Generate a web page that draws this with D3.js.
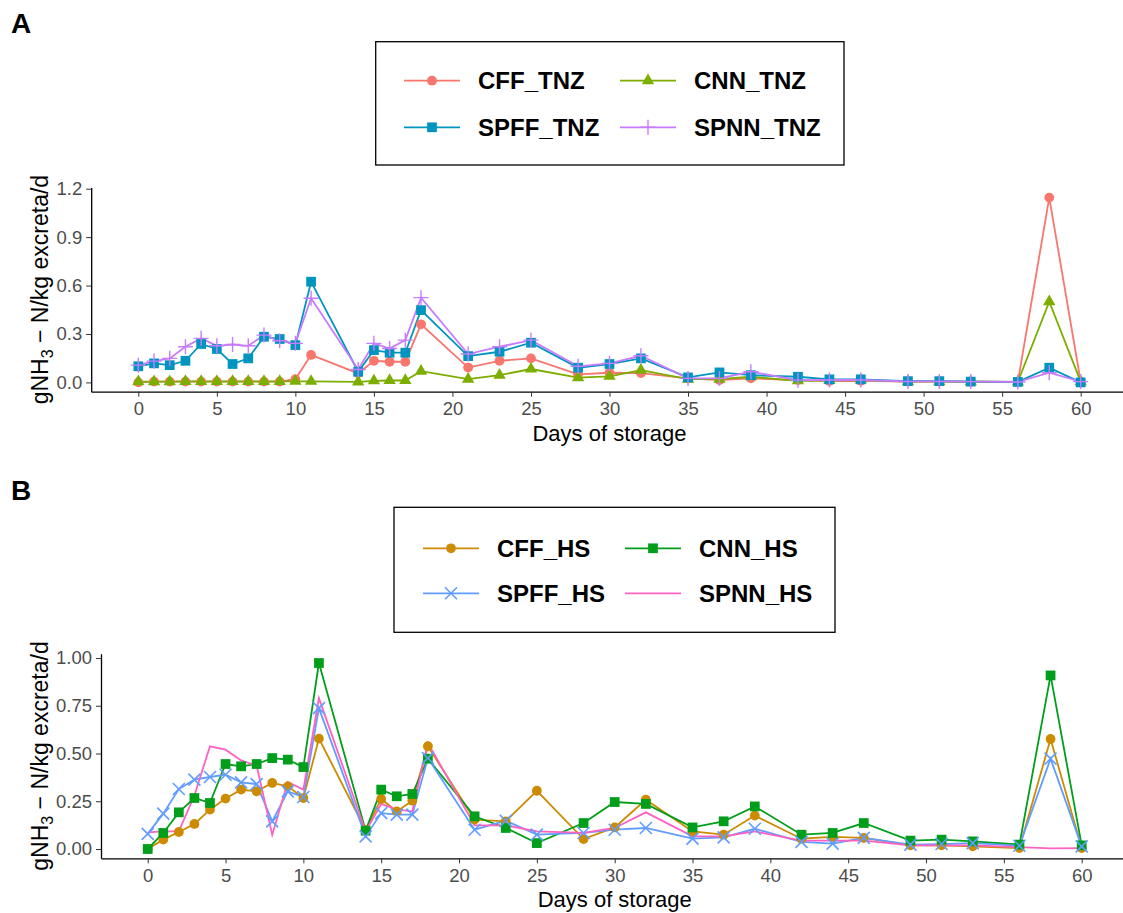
<!DOCTYPE html>
<html lang="en">
<head>
<meta charset="utf-8">
<title>Ammonia emission</title>
<script src="https://d3js.org/d3.v7.min.js"></script>
<style>
  body { margin: 0; background: #fff; }
  svg text { font-family: "Liberation Sans", Arial, sans-serif; }
  .tick line { stroke: #333; }
  .domain { stroke: #000; stroke-width: 1.3px; }
</style>
</head>
<body>
<svg id="chart" width="1123" height="913"></svg>
<script>
// storage days (same for both panels)
var days = [0,1,2,3,4,5,6,7,8,9,10,11,14,15,16,17,18,21,23,25,28,30,32,35,37,39,42,44,46,49,51,53,56,58,60];
var xTicks = [0,5,10,15,20,25,30,35,40,45,50,55,60];

// panel A - thermoneutral zone
var namesA = ["CFF_TNZ", "CNN_TNZ", "SPFF_TNZ", "SPNN_TNZ"];
var cffTNZ  = [0.0,0.005,0.005,0.005,0.005,0.005,0.005,0.005,0.005,0.005,0.02,0.17,0.056,0.134,0.128,0.128,0.36,0.092,0.134,0.149,0.05,0.06,0.058,0.025,0.015,0.025,0.014,0.008,0.01,0.005,0.005,0.004,0.003,1.145,0.005];
var cnnTNZ  = [0.005,0.005,0.005,0.006,0.006,0.006,0.006,0.006,0.006,0.006,0.007,0.007,0.003,0.01,0.012,0.012,0.07,0.02,0.045,0.083,0.03,0.038,0.076,0.02,0.02,0.035,0.01,0.012,0.015,0.005,0.005,0.004,0.003,0.50,0.005];
var spffTNZ = [0.10,0.118,0.107,0.134,0.238,0.207,0.114,0.149,0.283,0.269,0.231,0.624,0.066,0.20,0.184,0.184,0.448,0.163,0.19,0.246,0.091,0.114,0.149,0.031,0.062,0.045,0.035,0.019,0.019,0.008,0.008,0.005,0.003,0.091,0.0];
var spnnTNZ = [0.107,0.132,0.149,0.221,0.273,0.227,0.235,0.227,0.293,0.258,0.242,0.521,0.08,0.242,0.21,0.262,0.525,0.176,0.221,0.262,0.10,0.118,0.165,0.025,0.025,0.066,0.014,0.015,0.015,0.006,0.006,0.005,0.003,0.06,0.005];
var yTicksA = [0, 0.3, 0.6, 0.9, 1.2];

// panel B - heat stress
var namesB = ["CFF_HS", "CNN_HS", "SPFF_HS", "SPNN_HS"];
var cffHS  = [0.0,0.049,0.089,0.131,0.206,0.264,0.311,0.302,0.346,0.328,0.267,0.578,0.10,0.262,0.197,0.253,0.538,0.154,0.145,0.305,0.052,0.113,0.258,0.092,0.075,0.175,0.054,0.063,0.058,0.019,0.019,0.014,0.005,0.576,0.005];
var cnnHS  = [0.0,0.084,0.192,0.267,0.241,0.445,0.433,0.445,0.476,0.468,0.429,0.974,0.096,0.311,0.276,0.288,0.473,0.171,0.11,0.031,0.136,0.246,0.236,0.113,0.145,0.223,0.075,0.084,0.136,0.044,0.049,0.04,0.023,0.909,0.019];
var spffHS = [0.079,0.185,0.314,0.363,0.377,0.389,0.349,0.34,0.145,0.302,0.272,0.738,0.066,0.188,0.18,0.18,0.476,0.101,0.148,0.075,0.084,0.101,0.11,0.054,0.061,0.106,0.037,0.028,0.058,0.023,0.026,0.031,0.017,0.473,0.014];
var spnnHS = [0.087,0.092,0.092,0.28,0.538,0.52,0.464,0.436,0.075,0.351,0.311,0.79,0.092,0.236,0.206,0.197,0.555,0.124,0.124,0.092,0.084,0.11,0.192,0.066,0.066,0.092,0.044,0.044,0.044,0.019,0.019,0.019,0.01,0.003,0.005];
var yTicksB = [0, 0.25, 0.5, 0.75, 1.0];

var svg = d3.select("#chart");

// small marker glyphs
function addMarker(g, shape, color) {
  if (shape == "circle" || shape == "square" || shape == "triangle") {
    var type = shape == "circle" ? d3.symbolCircle : (shape == "square" ? d3.symbolSquare : d3.symbolTriangle);
    var size = shape == "circle" ? 75 : (shape == "square" ? 95 : 66);
    g.append("path").attr("d", d3.symbol().type(type).size(size)()).attr("fill", color);
  } else if (shape == "plus") {
    g.append("path").attr("d", "M-7.5,0H7.5M0,-7.5V7.5").attr("stroke", color).attr("stroke-width", 1.4);
  } else if (shape == "cross") {
    g.append("path").attr("d", "M-6,-6L6,6M-6,6L6,-6").attr("stroke", color).attr("stroke-width", 1.6);
  }
}

function tickStyle(g) {
  g.selectAll(".tick text")
    .style("font-size", "18.5px")
    .style("font-family", "'Liberation Sans', Arial, sans-serif")
    .attr("fill", "#4d4d4d");
}

function drawPanel(p) {
  var x = d3.scaleLinear().domain([-3, 63]).range([p.left, p.right]);
  var y = d3.scaleLinear().domain(p.yDomain).range([p.bottom, p.top]);

  svg.append("g")
    .attr("transform", "translate(0," + p.bottom + ")")
    .call(d3.axisBottom(x).tickValues(xTicks).tickSize(5).tickSizeOuter(0).tickPadding(4))
    .call(tickStyle)
    .call(function(g) { g.selectAll(".tick text").attr("dy", "0.8em"); });

  svg.append("g")
    .attr("transform", "translate(" + p.left + ",0)")
    .call(d3.axisLeft(y).tickValues(p.yTicks).tickFormat(d3.format(p.fmt)).tickSize(5).tickSizeOuter(0).tickPadding(4))
    .call(tickStyle);

  svg.append("text")
    .attr("x", (p.left + p.right) / 2).attr("y", p.bottom + 49)
    .attr("text-anchor", "middle").attr("font-size", 22)
    .text("Days of storage");

  var yt = svg.append("text")
    .attr("transform", "translate(48," + (p.top + p.bottom) / 2 + ") rotate(-90)")
    .attr("text-anchor", "middle").attr("font-size", 23);
  yt.append("tspan").text("gNH");
  yt.append("tspan").attr("font-size", 16).attr("dy", 5).text("3");
  yt.append("tspan").attr("dy", -5).text(" \u2212 N/kg excreta/d");

  svg.append("text")
    .attr("x", 11).attr("y", p.labelY)
    .attr("font-size", 28).attr("font-weight", "bold")
    .text(p.label);

  var line = d3.line()
    .x(function(d, i) { return x(days[i]); })
    .y(function(d) { return y(d); });

  p.series.forEach(function(s) {
    svg.append("path").datum(s.values)
      .attr("d", line).attr("fill", "none")
      .attr("stroke", s.color).attr("stroke-width", 1.8);
  });
  p.series.forEach(function(s) {
    if (!s.shape) return;
    svg.append("g").selectAll("g").data(s.values).enter().append("g")
      .attr("transform", function(d, i) { return "translate(" + x(days[i]) + "," + y(d) + ")"; })
      .each(function() { addMarker(d3.select(this), s.shape, s.color); });
  });

  // legend
  var lg = p.legend;
  svg.append("rect")
    .attr("x", lg.x0).attr("y", lg.y0).attr("width", lg.x1 - lg.x0).attr("height", lg.y1 - lg.y0)
    .attr("fill", "none").attr("stroke", "#000").attr("stroke-width", 1.3);
  p.series.forEach(function(s, i) {
    var kx = lg.cols[i % 2], ky = lg.rows[Math.floor(i / 2)];
    var g = svg.append("g").attr("transform", "translate(" + kx + "," + ky + ")");
    g.append("line").attr("x1", 0).attr("x2", 56).attr("stroke", s.color).attr("stroke-width", 1.8);
    var m = g.append("g").attr("transform", "translate(28,0)");
    if (s.shape) addMarker(m, s.shape, s.color);
    g.append("text").attr("x", 74).attr("dy", "0.35em")
      .attr("font-size", 24).attr("font-weight", "bold").text(s.name);
  });
}

drawPanel({
  label: "A", labelY: 33,
  left: 91.2, right: 1127.8, top: 187.5, bottom: 391.7,
  yDomain: [-0.0575, 1.2075], yTicks: yTicksA, fmt: ".1f",
  series: [
    {name: namesA[0], values: cffTNZ, color: "#F8766D", shape: "circle"},
    {name: namesA[1], values: cnnTNZ, color: "#7CAE00", shape: "triangle"},
    {name: namesA[2], values: spffTNZ, color: "#0095BF", shape: "square"},
    {name: namesA[3], values: spnnTNZ, color: "#C77CFF", shape: "plus"}
  ],
  legend: {x0: 375.7, y0: 41.7, x1: 844, y1: 165, cols: [404, 620], rows: [80.7, 127.3]}
});

drawPanel({
  label: "B", labelY: 500,
  left: 101, right: 1128.4, top: 653.7, bottom: 858.3,
  yDomain: [-0.0487, 1.0227], yTicks: yTicksB, fmt: ".2f",
  series: [
    {name: namesB[0], values: cffHS, color: "#CC8B00", shape: "circle"},
    {name: namesB[1], values: cnnHS, color: "#009E1A", shape: "square"},
    {name: namesB[2], values: spffHS, color: "#619CFF", shape: "cross"},
    {name: namesB[3], values: spnnHS, color: "#FF61C3", shape: null}
  ],
  legend: {x0: 394, y0: 507.3, x1: 835, y1: 632.3, cols: [423, 625], rows: [548.3, 593.3]}
});
</script>
</body>
</html>
